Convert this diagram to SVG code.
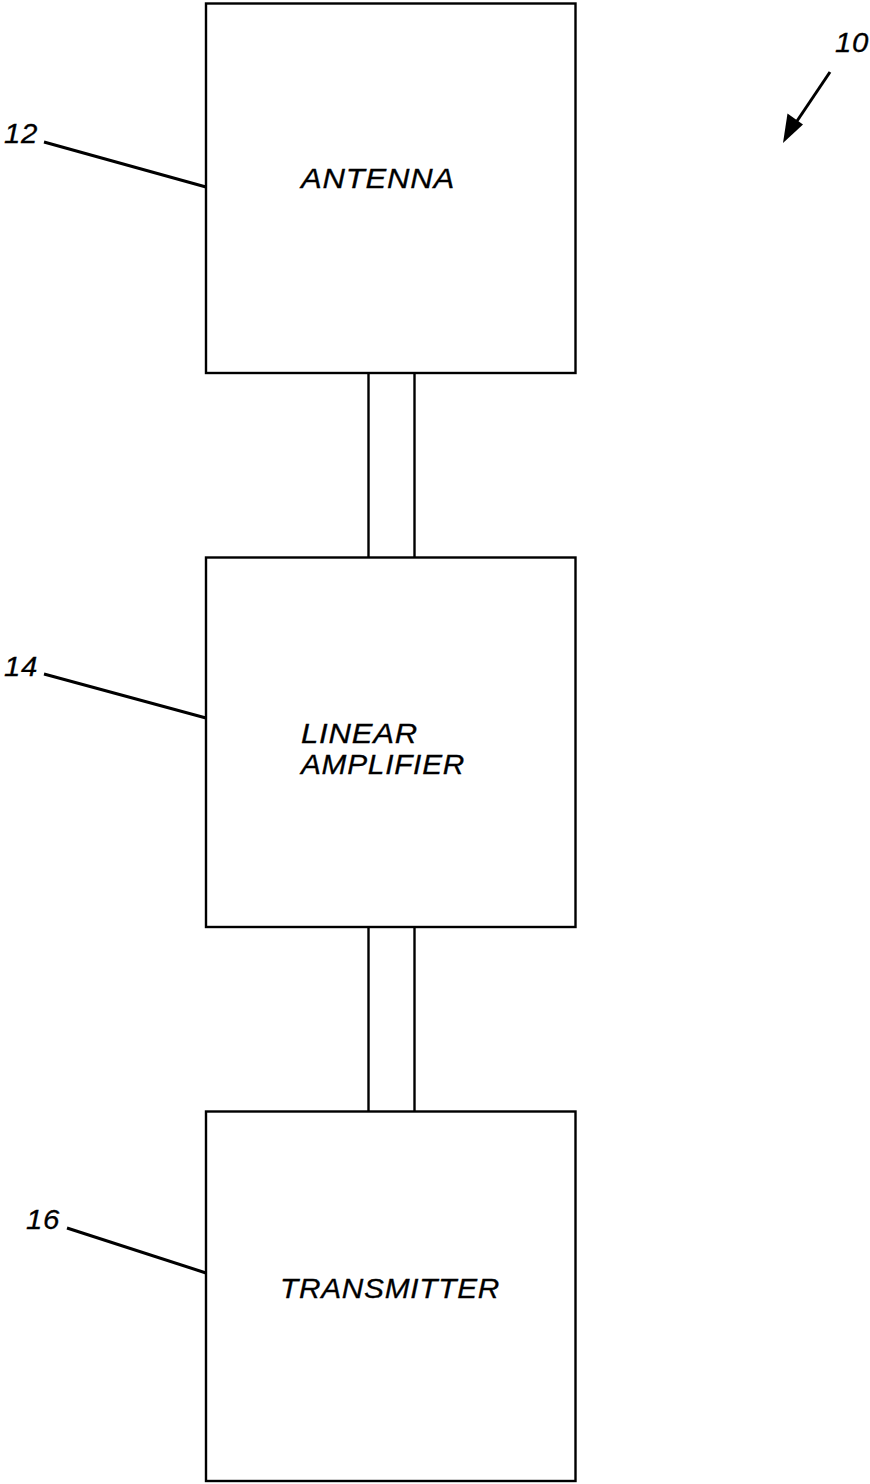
<svg xmlns="http://www.w3.org/2000/svg" width="870" height="1484" viewBox="0 0 870 1484">
<style>
.box{fill:#fff;stroke:#000;stroke-width:2.4}
.ln{stroke:#000;stroke-width:2.4;fill:none}
.ld{stroke:#000;stroke-width:3;fill:none}
.t{font-family:"Liberation Sans",Arial,sans-serif;font-style:italic;font-size:28px;fill:#000;stroke:#000;stroke-width:0.3;letter-spacing:0.7px}
</style>
<g id="connectors">
<line class="ln" x1="368.5" y1="373" x2="368.5" y2="557"/>
<line class="ln" x1="414.5" y1="373" x2="414.5" y2="557"/>
<line class="ln" x1="368.5" y1="927" x2="368.5" y2="1111"/>
<line class="ln" x1="414.5" y1="927" x2="414.5" y2="1111"/>
</g>
<g id="antenna">
<rect class="box" x="206" y="3.5" width="369.5" height="369.5"/>
<text class="t" transform="translate(301,188) scale(1.11,1)">ANTENNA</text>
</g>
<g id="amplifier">
<rect class="box" x="206" y="557.5" width="369.5" height="369.5"/>
<text class="t" transform="translate(301,743) scale(1.11,1)">LINEAR</text>
<text class="t" transform="translate(301,774) scale(1.065,1)">AMPLIFIER</text>
</g>
<g id="transmitter">
<rect class="box" x="206" y="1111.5" width="369.5" height="369.5"/>
<text class="t" transform="translate(280,1298) scale(1.065,1)">TRANSMITTER</text>
</g>
<g id="ref12">
<text class="t" transform="translate(4,143) scale(1.05,1)">12</text>
<line class="ld" x1="44" y1="142" x2="206" y2="187"/>
</g>
<g id="ref14">
<text class="t" transform="translate(4,676) scale(1.05,1)">14</text>
<line class="ld" x1="44" y1="674" x2="206" y2="718"/>
</g>
<g id="ref16">
<text class="t" transform="translate(26,1229) scale(1.05,1)">16</text>
<line class="ld" x1="67" y1="1228" x2="206" y2="1273"/>
</g>
<g id="ref10">
<text class="t" transform="translate(835,52) scale(1.05,1)">10</text>
<line class="ld" x1="830" y1="72" x2="795" y2="124"/>
<path d="M783,143 L787.5,113.5 L803,124.5 z" fill="#000"/>
</g>
</svg>
